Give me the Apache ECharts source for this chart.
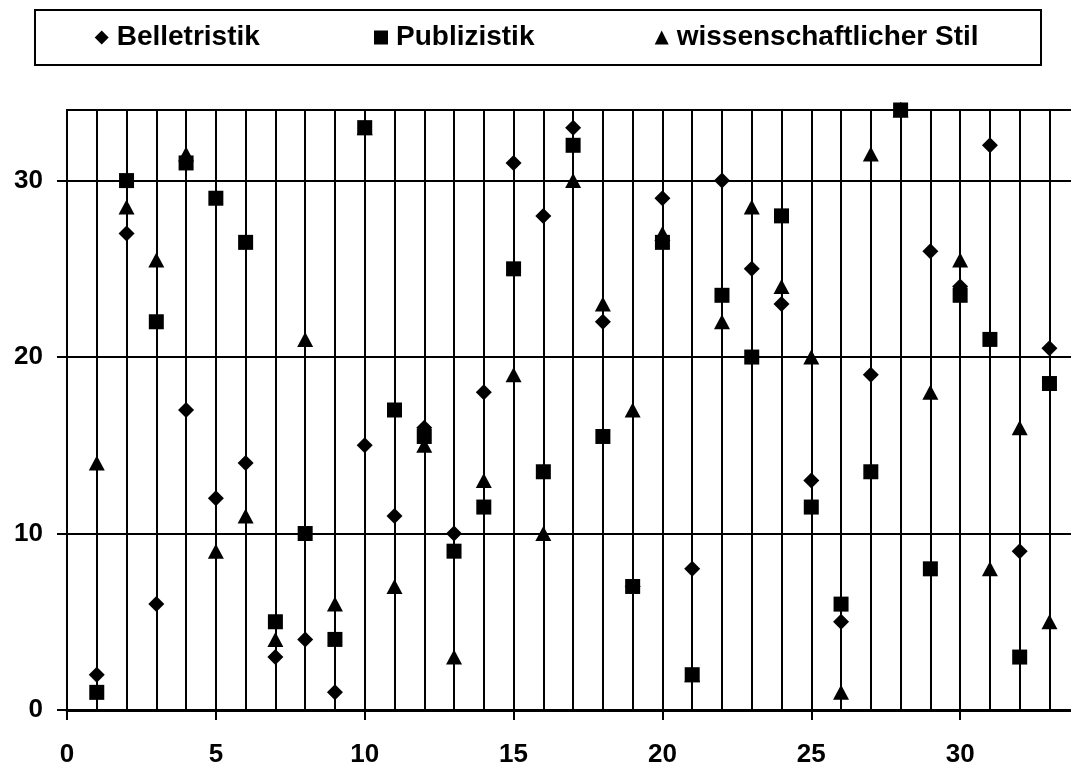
<!DOCTYPE html>
<html>
<head>
<meta charset="utf-8">
<script src="https://cdn.jsdelivr.net/npm/echarts@6/dist/echarts.min.js"></script>
<style>
html,body{margin:0;padding:0;background:#fff;}
#chart{width:1071px;height:769px;}
</style>
</head>
<body>
<div id="chart"></div>
<script>
const xValues = [1,2,3,4,5,6,7,8,9,10,11,12,13,14,15,16,17,18,19,20,21,22,23,24,25,26,27,28,29,30,31,32,33];
const belletristik = [2,27,6,17,12,14,3,4,1,15,11,16,10,18,31,28,33,22,7,29,8,30,25,23,13,5,19,34,26,24,32,9,20.5];
const publizistik = [1,30,22,31,29,26.5,5,10,4,33,17,15.5,9,11.5,25,13.5,32,15.5,7,26.5,2,23.5,20,28,11.5,6,13.5,34,8,23.5,21,3,18.5];
const wissenschaft = [14,28.5,25.5,31.5,9,11,4,21,6,33,7,15,3,13,19,10,30,23,17,27,2,22,28.5,24,20,1,31.5,34,18,25.5,8,16,5];
const seriesNames = ['Belletristik','Publizistik','wissenschaftlicher Stil'];
const yTicks = [0,10,20,30];

const FONT = '"Liberation Sans", Arial, sans-serif';
const pair = arr => xValues.map((x,i) => [x, arr[i]]);

const chart = echarts.init(document.getElementById('chart'), null, {renderer:'canvas'});
const legendBase = {
  top: 23.5, padding: 0, itemWidth: 14, itemHeight: 14, selectedMode: false,
  itemStyle: {opacity: 1},
  textStyle: {fontFamily: FONT, fontWeight: 'bold', fontSize: 28, color: '#000', lineHeight: 28, padding: [0,0,0,3]}
};
const markerStyle = {color: '#000', opacity: 1, borderWidth: 0};
chart.setOption({
  backgroundColor: '#fff',
  animation: false,
  graphic: [{
    type: 'rect', shape: {x: 35, y: 10, width: 1006, height: 55},
    style: {fill: 'none', stroke: '#000', lineWidth: 2}, z: 1
  }],
  legend: [
    Object.assign({}, legendBase, {left: 94.7, data: [{name: seriesNames[0], icon: 'diamond'}]}),
    Object.assign({}, legendBase, {left: 374, data: [{name: seriesNames[1], icon: 'rect'}]}),
    Object.assign({}, legendBase, {left: 654.7, data: [{name: seriesNames[2], icon: 'triangle'}]})
  ],
  grid: {left: 67, top: 110, width: 1042, height: 600, outerBoundsMode: 'none', containLabel: false,
    show: true, borderColor: '#000', borderWidth: 2, backgroundColor: 'transparent'},
  xAxis: {
    type: 'value', min: 0, max: 35, interval: 5, splitNumber: 5,
    axisLine: {show: true, onZero: false, lineStyle: {color: '#000', width: 3}},
    axisTick: {show: true, length: 10, lineStyle: {color: '#000', width: 2}},
    minorTick: {show: false, splitNumber: 5},
    axisLabel: {margin: 32, fontFamily: FONT, fontWeight: 'bold', fontSize: 26, color: '#000',
      formatter: v => (v <= 30 ? String(v) : '')},
    splitLine: {show: true, lineStyle: {color: '#000', width: 2}},
    minorSplitLine: {show: true, lineStyle: {color: '#000', width: 2}}
  },
  yAxis: {
    type: 'value', min: 0, max: 34, interval: 10,
    axisLine: {show: true, lineStyle: {color: '#000', width: 2}},
    axisTick: {show: true, length: 10, customValues: yTicks, lineStyle: {color: '#000', width: 2}},
    axisLabel: {margin: 24, customValues: yTicks, fontFamily: FONT, fontWeight: 'bold', fontSize: 26, color: '#000',
      formatter: v => (v % 10 === 0 ? String(v) : '')},
    splitLine: {show: true, lineStyle: {color: '#000', width: 2}}
  },
  series: [
    {name: seriesNames[0], type: 'scatter', symbol: 'diamond', symbolSize: [16,16], itemStyle: markerStyle, data: pair(belletristik), clip: false, z: 3},
    {name: seriesNames[2], type: 'scatter', symbol: 'triangle', symbolSize: [16,15], itemStyle: markerStyle, data: pair(wissenschaft), clip: false, z: 3},
    {name: seriesNames[1], type: 'scatter', symbol: 'rect', symbolSize: [15,15], itemStyle: markerStyle, data: pair(publizistik), clip: false, z: 4}
  ]
});
</script>
</body>
</html>
